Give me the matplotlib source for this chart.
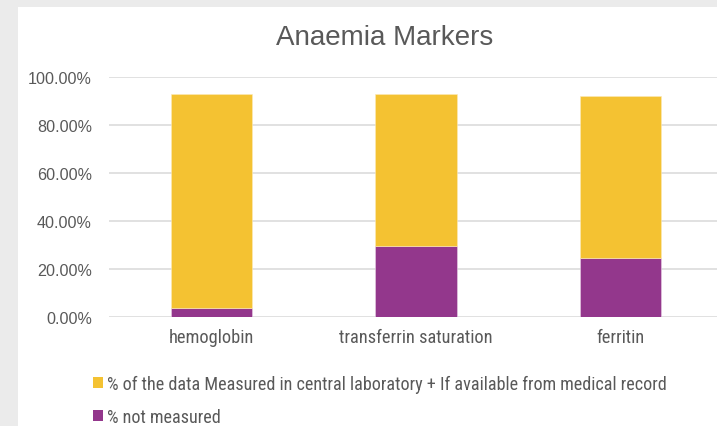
import matplotlib
matplotlib.use("Agg")
import matplotlib.pyplot as plt
from matplotlib.patches import Rectangle, Patch
from matplotlib.ticker import FuncFormatter, FixedLocator

categories = ["hemoglobin", "transferrin saturation", "ferritin"]
not_measured = [3.6, 29.6, 24.5]
measured = [89.1, 63.0, 67.3]
series_labels = ["% of the data Measured in central laboratory + If available from medical record",
                 "% not measured"]
y_ticks = [0, 20, 40, 60, 80, 100]
title = "Anaemia Markers"

YELLOW = "#F4C232"
PURPLE = "#93378C"
TXT = "#595959"
GRID = "#D9D9D9"
NARROW = ["Roboto Condensed", "DejaVu Sans"]
MAIN = ["Liberation Sans", "DejaVu Sans"]

W, H = 717, 427
fig = plt.figure(figsize=(W / 100, H / 100), dpi=100, facecolor="#EBEBEB")
fig.patches.append(Rectangle((18 / W, 0), 1, (H - 8) / H, transform=fig.transFigure,
                             facecolor="white", edgecolor="none", zorder=-10))

left, right = 109.25, 722.7
bottom, top = H - 318, H - 77.5
ax = fig.add_axes([left / W, bottom / H, (right - left) / W, (top - bottom) / H])
ax.set_facecolor("none")
ax.set_zorder(2)

x = list(range(len(categories)))
ax.bar(x, not_measured, width=0.4, color=PURPLE, edgecolor="#E9D3E7", linewidth=0.4, zorder=3)
ax.bar(x, measured, width=0.4, bottom=not_measured, color=YELLOW, edgecolor="#FBE9B9",
       linewidth=0.4, zorder=3)

ax.set_xlim(-0.5, len(categories) - 0.5)
ax.set_ylim(0, 100)
ax.yaxis.set_major_locator(FixedLocator(y_ticks))
ax.yaxis.set_major_formatter(FuncFormatter(lambda v, p: f"{v:.2f}%"))
ax.grid(axis="y", color=GRID, linewidth=1.1, zorder=1)
ax.set_axisbelow(True)
for s in ax.spines.values():
    s.set_visible(False)
ax.tick_params(axis="both", length=0)
ax.tick_params(axis="y", pad=12.5, labelcolor=TXT, labelsize=11.6)
ax.set_xticks(x)
ax.set_xticklabels(categories, color=TXT, fontsize=13.2, family=NARROW)
ax.tick_params(axis="x", pad=8)
for lbl in ax.get_yticklabels():
    lbl.set_family(MAIN)

fig.text(384.5 / W, (H - 38) / H, title, ha="center", va="center", fontsize=20,
         color=TXT, family=MAIN)

handles = [Patch(facecolor=YELLOW, edgecolor="none"), Patch(facecolor=PURPLE, edgecolor="none")]
leg = fig.legend(handles, series_labels, loc="upper left",
                 bbox_to_anchor=(93 / W, (H - 376) / H), frameon=False,
                 prop={"family": NARROW, "size": 13.05}, labelcolor=TXT,
                 handlelength=0.57, handleheight=0.57, handletextpad=0.2,
                 labelspacing=0.82, borderpad=0, borderaxespad=0)

fig.savefig("out.png", dpi=100, facecolor=fig.get_facecolor())
